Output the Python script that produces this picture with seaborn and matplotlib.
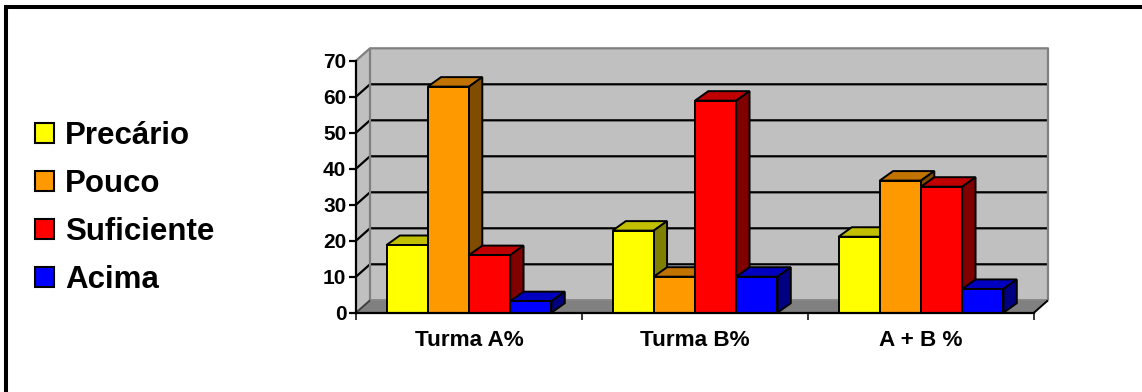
import matplotlib
matplotlib.use("Agg")
import matplotlib.pyplot as plt
from matplotlib.colors import to_hex
from matplotlib.lines import Line2D
from matplotlib.patches import Polygon, Rectangle
import pandas as pd
import seaborn as sns

# Survey percentages per class and level
turmas = ["Turma A%", "Turma B%", "A + B %"]
niveis = ["Precário", "Pouco", "Suficiente", "Acima"]
precario = [18.8, 22.8, 21.1]
pouco = [62.8, 10.0, 36.7]
suficiente = [16.0, 58.9, 35.0]
acima = [3.2, 10.0, 6.6]
y_ticks = [0, 10, 20, 30, 40, 50, 60, 70]

front = ["#FFFF00", "#FF9900", "#FF0000", "#0000FF"]
top = ["#C0C000", "#C07300", "#C00000", "#0000C0"]
side = ["#808000", "#804D00", "#800000", "#000080"]

W, H = 1142, 392
PX_X = 678 / 3      # pixels per category
PX_Y = 252 / 70     # pixels per percentage point

df = pd.DataFrame({
    "turma": turmas * 4,
    "nivel": [n for n in niveis for _ in turmas],
    "valor": precario + pouco + suficiente + acima,
})

sns.set_theme(style="white")
plt.rcParams["font.family"] = ["Liberation Sans", "DejaVu Sans"]
plt.rcParams["font.weight"] = "bold"

fig = plt.figure(figsize=(W / 100, H / 100), dpi=100, facecolor="white")
ax = fig.add_axes([356 / W, 1 - 312.7 / H, 678 / W, 252 / H])

sns.barplot(
    data=df, x="turma", y="valor", hue="nivel", order=turmas, hue_order=niveis,
    palette=front, width=0.73, gap=0, edgecolor="black", linewidth=1.4,
    errorbar=None, saturation=1, ax=ax, zorder=10,
)
ax.set_xlim(-0.5, 2.5)
ax.set_ylim(0, 70)
ax.set_xlabel("")
ax.set_ylabel("")

# Depth of the chart walls and of the bars, in data units
wall_dx, wall_dy = 14 / PX_X, 12.4 / PX_Y
bar_dx, bar_dy = 13.3 / PX_X, 9.5 / PX_Y
x0, x1 = -0.5, 2.5
wall_edge = "#808080"


def face(points, color, z, edge="black", lw=1.4):
    ax.add_patch(Polygon(points, closed=True, facecolor=color, edgecolor=edge,
                         linewidth=lw, zorder=z, clip_on=False,
                         joinstyle="miter"))


def line(xs, ys, color, lw, z):
    ax.plot(xs, ys, color=color, lw=lw, zorder=z, clip_on=False,
            solid_capstyle="butt")


# Back wall, side wall and floor
face([(x0 + wall_dx, wall_dy), (x1 + wall_dx, wall_dy),
      (x1 + wall_dx, 70 + wall_dy), (x0 + wall_dx, 70 + wall_dy)],
     "#C0C0C0", 1, "none", 0)
face([(x0, 0), (x0 + wall_dx, wall_dy), (x0 + wall_dx, 70 + wall_dy), (x0, 70)],
     "#C0C0C0", 1, "none", 0)
face([(x0, 0), (x1, 0), (x1 + wall_dx, wall_dy), (x0 + wall_dx, wall_dy)],
     "#808080", 2, "none", 0)

# Gridlines run along the side wall and across the back wall
for v in y_ticks[1:-1]:
    line([x0, x0 + wall_dx, x1 + wall_dx], [v, v + wall_dy, v + wall_dy], "black", 1.6, 3)

# Wall outlines sit over the gridlines
line([x0, x0 + wall_dx, x1 + wall_dx, x1 + wall_dx],
     [70, 70 + wall_dy, 70 + wall_dy, wall_dy], wall_edge, 1.6, 4)
line([x0 + wall_dx, x0 + wall_dx], [wall_dy, 70 + wall_dy], wall_edge, 1.6, 4)
line([x0 + wall_dx, x1 + wall_dx], [wall_dy, wall_dy], wall_edge, 1.2, 4)
line([x0, x0 + wall_dx], [0, wall_dy], "#404040", 1.4, 5)
line([x1, x1 + wall_dx], [0, wall_dy], "black", 1.4, 5)

# Top and side faces of each bar, stacked left to right so neighbours overlap
bars = [p for p in ax.patches if isinstance(p, Rectangle) and p.get_height() > 0]
bars = sorted(bars, key=lambda p: p.get_x())
for i, bar in enumerate(bars):
    left, right, h = bar.get_x(), bar.get_x() + bar.get_width(), bar.get_height()
    z = 10 + i * 2
    shade = front.index(to_hex(bar.get_facecolor()).upper())
    face([(left, h), (right, h), (right + bar_dx, h + bar_dy), (left + bar_dx, h + bar_dy)],
         top[shade], z)
    face([(right, 0), (right + bar_dx, bar_dy), (right + bar_dx, h + bar_dy), (right, h)],
         side[shade], z)
    bar.set_zorder(z + 1)
    bar.set_clip_on(False)

# Axis lines and ticks
for name in ("top", "right"):
    ax.spines[name].set_visible(False)
for name in ("left", "bottom"):
    ax.spines[name].set_color("black")
    ax.spines[name].set_linewidth(1.6)
    ax.spines[name].set_zorder(40)
ax.patch.set_visible(False)
ax.set_yticks(y_ticks)
ax.set_xticks([-0.5, 0.5, 1.5, 2.5], minor=False)
ax.set_xticklabels([])
ax.tick_params(axis="y", length=5, width=1.6, color="black", left=True, pad=2,
               labelsize=15, labelcolor="black")
ax.tick_params(axis="x", length=5, width=1.1, color="black", bottom=True)
for i, label in enumerate(turmas):
    ax.annotate(label, xy=(i, 0), xycoords="data", xytext=(0, -24),
                textcoords="offset points", ha="center", va="baseline",
                fontsize=16.2, fontweight="bold", color="black")

# Legend on the left of the plot
handles = [Rectangle((0, 0), 1, 1, facecolor=c, edgecolor="black", linewidth=1.5)
           for c in front]
leg = ax.legend(
    handles, niveis, loc="center left", bbox_to_anchor=(35 / W, 1 - 208 / H),
    bbox_transform=fig.transFigure, frameon=False, fontsize=22.5,
    handlelength=0.61, handleheight=0.61, handletextpad=0.35, labelspacing=0.58,
    borderpad=0, borderaxespad=0, labelcolor="black",
)
for t in leg.get_texts():
    t.set_fontweight("bold")

# Heavy rule along the top and left edges of the figure
fig.add_artist(Line2D([6 / W, 6 / W, 1], [0, 1 - 7 / H, 1 - 7 / H],
                      transform=fig.transFigure, color="black", linewidth=2.9,
                      solid_joinstyle="miter", solid_capstyle="butt"))

fig.savefig("out.png", dpi=100, facecolor="white")
